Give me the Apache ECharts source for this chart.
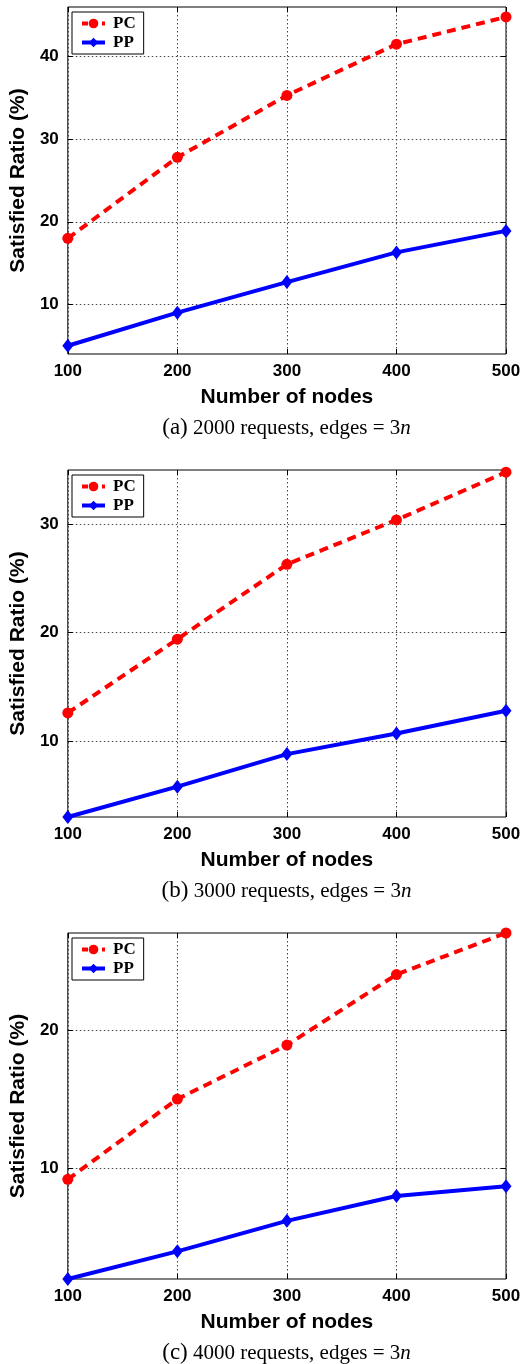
<!DOCTYPE html>
<html>
<head>
<meta charset="utf-8">
<script src="https://cdn.jsdelivr.net/npm/echarts@6/dist/echarts.min.js"></script>
<style>
  html, body { margin: 0; padding: 0; background: #fff; }
  #chart { width: 524px; height: 1364px; }
</style>
</head>
<body>
<div id="chart"></div>
<script>
// Number of nodes on the x axis
const nodes = [100, 200, 300, 400, 500];

// Satisfied ratio (%) for 2000 requests
const pc2000 = [18.0, 27.8, 35.3, 41.5, 44.8];
const pp2000 = [5.0, 9.0, 12.7, 16.3, 18.9];

// Satisfied ratio (%) for 3000 requests
const pc3000 = [12.6, 19.4, 26.3, 30.4, 34.8];
const pp3000 = [3.0, 5.8, 8.8, 10.7, 12.8];

// Satisfied ratio (%) for 4000 requests
const pc4000 = [9.2, 15.0, 18.9, 24.0, 27.0];
const pp4000 = [2.0, 4.0, 6.2, 8.0, 8.7];

// y ticks and ranges of each panel
const yTicks = [[10, 20, 30, 40], [10, 20, 30], [10, 20]];
const yRanges = [[4, 46], [3, 35], [2, 27]];

// captions
const captionTags = ['(a)', '(b)', '(c)'];
const captionText = [' 2000 requests, edges = 3', ' 3000 requests, edges = 3', ' 4000 requests, edges = 3'];

const panels = [
  { pc: pc2000, pp: pp2000 },
  { pc: pc3000, pp: pp3000 },
  { pc: pc4000, pp: pp4000 }
];

const SANS = '"Liberation Sans", Arial, Helvetica, sans-serif';
const SERIF = '"Liberation Serif", "Times New Roman", serif';

const gridTops = [7, 470, 933];
const gridHeights = [347, 347, 346];
const plotLeft = 67, plotRight = 18;
const plotCenterX = plotLeft + (524 - plotLeft - plotRight) / 2;

const pcLine = { color: '#ff0000', width: 4, type: [9, 6] };
const ppLine = { color: '#0000ff', width: 4 };

const grid = [], xAxis = [], yAxis = [], series = [], legend = [], graphic = [];

const gridLine = { show: true, lineStyle: { color: '#444', width: 1, type: [1.5, 2.5] } };
const edgeTick = { show: true, inside: true, length: 5, lineStyle: { color: '#000' } };

panels.forEach((p, i) => {
  grid.push({
    left: plotLeft, right: plotRight, top: gridTops[i], height: gridHeights[i],
    show: true, borderColor: '#000', borderWidth: 1, backgroundColor: '#fff'
  });

  xAxis.push({
    type: 'value', gridIndex: i, min: 100, max: 500, interval: 100,
    name: 'Number of nodes', nameLocation: 'middle', nameGap: 33,
    nameTextStyle: { fontFamily: SANS, fontWeight: 'bold', fontSize: 21, color: '#000' },
    axisLine: { show: false },
    axisTick: edgeTick,
    axisLabel: { fontFamily: SANS, fontWeight: 'bold', fontSize: 17, color: '#000', margin: 9 },
    splitLine: gridLine
  });
  // top edge ticks
  xAxis.push({
    type: 'value', gridIndex: i, position: 'top', min: 100, max: 500, interval: 100,
    axisLine: { show: false }, axisLabel: { show: false }, splitLine: { show: false },
    axisTick: edgeTick
  });

  yAxis.push({
    type: 'value', gridIndex: i, min: yRanges[i][0], max: yRanges[i][1],
    name: 'Satisfied Ratio (%)', nameLocation: 'middle', nameGap: 36,
    nameTextStyle: { fontFamily: SANS, fontWeight: 'bold', fontSize: 21, color: '#000' },
    axisLine: { show: false },
    axisTick: Object.assign({ customValues: yTicks[i] }, edgeTick),
    axisLabel: { fontFamily: SANS, fontWeight: 'bold', fontSize: 17, color: '#000', margin: 9, customValues: yTicks[i] },
    splitLine: gridLine
  });
  // right edge ticks
  yAxis.push({
    type: 'value', gridIndex: i, position: 'right', min: yRanges[i][0], max: yRanges[i][1],
    axisLine: { show: false }, axisLabel: { show: false }, splitLine: { show: false },
    axisTick: Object.assign({ customValues: yTicks[i] }, edgeTick)
  });

  series.push({
    name: 'PC', type: 'line', xAxisIndex: i * 2, yAxisIndex: i * 2,
    data: nodes.map((n, k) => [n, p.pc[k]]),
    symbol: 'circle', symbolSize: 11,
    lineStyle: pcLine,
    itemStyle: { color: '#ff0000' },
    z: 3
  });
  series.push({
    name: 'PP', type: 'line', xAxisIndex: i * 2, yAxisIndex: i * 2,
    data: nodes.map((n, k) => [n, p.pp[k]]),
    symbol: 'diamond', symbolSize: [11, 14],
    lineStyle: ppLine,
    itemStyle: { color: '#0000ff' },
    z: 4
  });

  legend.push({
    data: [
      { name: 'PC', lineStyle: { width: 4, type: [6, 4], color: '#ff0000' } },
      { name: 'PP', lineStyle: { width: 4, color: '#0000ff' } }
    ],
    orient: 'vertical', left: 72, top: gridTops[i] + 5,
    padding: [3, 8, 3, 8], itemGap: 2, itemWidth: 23, itemHeight: 12,
    backgroundColor: '#fff', borderColor: '#000', borderWidth: 1, borderRadius: 0,
    textStyle: { fontFamily: SERIF, fontWeight: 'bold', fontSize: 17, lineHeight: 16, color: '#000', padding: [0, 0, 0, 3] },
    selectedMode: false
  });

  graphic.push({
    type: 'text', x: plotCenterX, y: gridTops[i] + gridHeights[i] + 74,
    style: {
      text: '{t|' + captionTags[i] + '}{c|' + captionText[i] + '}{n|n}',
      align: 'center', verticalAlign: 'middle',
      rich: {
        t: { fontFamily: SERIF, fontSize: 23, fill: '#000' },
        c: { fontFamily: SERIF, fontSize: 21, fill: '#000' },
        n: { fontFamily: SERIF, fontSize: 21, fontStyle: 'italic', fill: '#000' }
      }
    }
  });
});

const chart = echarts.init(document.getElementById('chart'), null, { renderer: 'canvas' });
chart.setOption({
  animation: false,
  backgroundColor: '#fff',
  grid, xAxis, yAxis, series, legend, graphic
});
</script>
</body>
</html>
